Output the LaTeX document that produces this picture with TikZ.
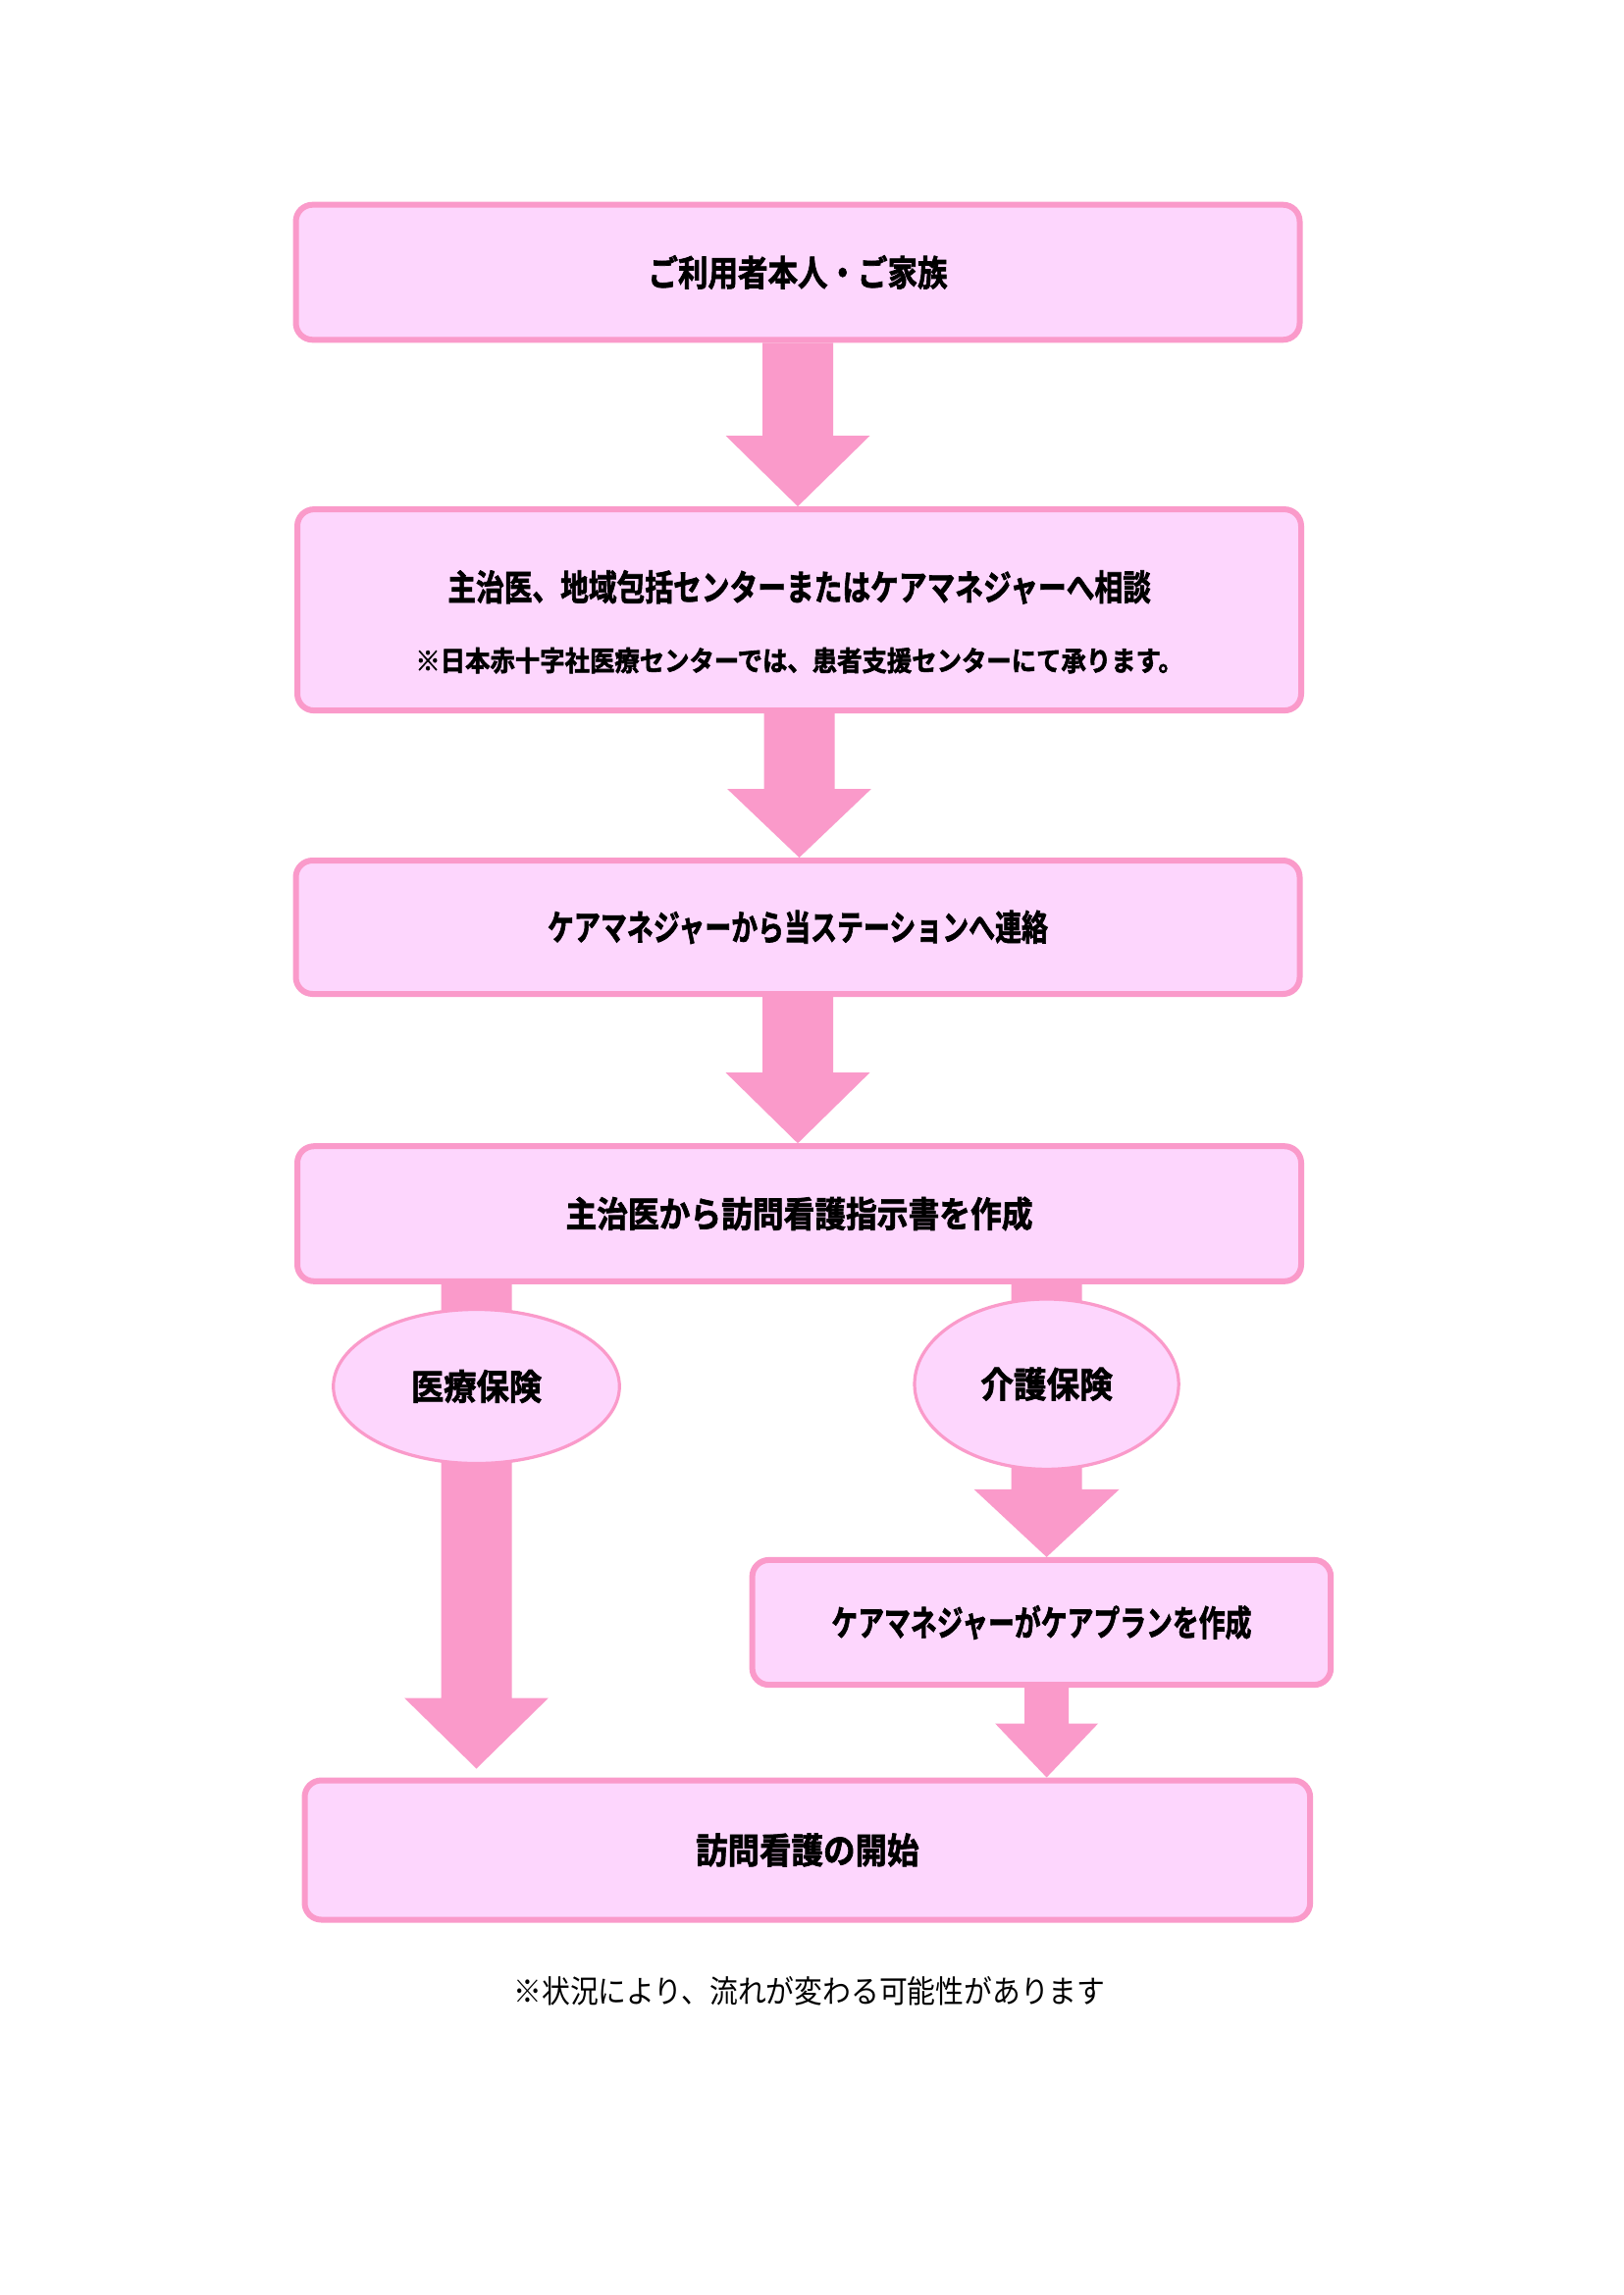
\documentclass[tikz,border=0pt]{standalone}
\usepackage{fontspec}
\usepackage{graphicx}
\usetikzlibrary{calc,shapes.geometric}
\newfontfamily\jph{Noto Sans CJK JP Bold}[FakeBold=2]
\newfontfamily\jpr{Noto Sans CJK JP}
\definecolor{bpink}{HTML}{FA9ACA}
\definecolor{fpink}{HTML}{FDD6FD}
\newcommand\fitw[2]{\resizebox{#1}{\height}{#2}}
\pgfdeclarelayer{bg}
\pgfsetlayers{bg,main}
% #1 start, #2 tip, #3 shaft half width, #4 head half width, #5 head length
\newcommand\barrow[5]{%
  \fill[bpink] let \p1=(#1), \p2=(#2) in
  (\x1-#3,\y1) -- (\x1-#3,\y2+#5) -- (\x1-#4,\y2+#5) -- (\x1,\y2)
  -- (\x1+#4,\y2+#5) -- (\x1+#3,\y2+#5) -- (\x1+#3,\y1) -- cycle;}
\begin{document}
\begin{tikzpicture}[x=0.5pt,y=-0.5pt,
  box/.style={draw=bpink, fill=fpink, line width=3pt, rounded corners=8.5pt,
    inner sep=0pt, font=\jph\fontsize{18pt}{20pt}\selectfont},
  oval/.style={ellipse, draw=bpink, fill=fpink, line width=1.6pt,
    inner sep=0pt, font=\jph\fontsize{18pt}{20pt}\selectfont},
  lbl/.style={inner sep=0pt, font=\jph\fontsize{18pt}{20pt}\selectfont},
  note/.style={inner sep=0pt, font=\jpr\fontsize{16pt}{18pt}\selectfont}]
\begin{pgfonlayer}{bg}
\fill[white] (0,0) rectangle (1654,2339);
\end{pgfonlayer}
\useasboundingbox (0,0) rectangle (1654,2339);

% boxes and ovals
\node[box, minimum width=511.5pt, minimum height=68.8pt] (b1) at (813,277.5)
  {\raisebox{-1.5pt}{\fitw{152.5pt}{ご利用者本人・ご家族}}};
\node[box, minimum width=511.5pt, minimum height=102.5pt] (b2) at (814.5,621.6) {};
\node[lbl] (b2a) at (814.6,598.4) {\fitw{358.3pt}{主治医、地域包括センターまたはケアマネジャーへ相談}};
\node[lbl, font=\jph\fontsize{14pt}{16pt}\selectfont] (b2b) at (814.6,673.2)
  {\fitw{391.2pt}{※日本赤十字社医療センターでは、患者支援センターにて承ります。}};
\node[box, minimum width=511.5pt, minimum height=68pt] (b3) at (813,945)
  {\raisebox{-1.8pt}{\fitw{255pt}{ケアマネジャーから当ステーションへ連絡}}};
\node[box, minimum width=511.5pt, minimum height=68.8pt] (b4) at (814.5,1237)
  {\raisebox{-1.5pt}{\fitw{238pt}{主治医から訪問看護指示書を作成}}};
\node[oval, minimum width=145.8pt, minimum height=78.5pt] (e1) at (485.5,1413)
  {\raisebox{-3.3pt}{\fitw{66.5pt}{医療保険}}};
\node[oval, minimum width=134.6pt, minimum height=86.7pt] (e2) at (1066.6,1410.7)
  {\raisebox{-0.8pt}{\fitw{67.3pt}{介護保険}}};
\node[box, minimum width=294.8pt, minimum height=63.6pt] (b5) at (1061.4,1653.5)
  {\raisebox{-4pt}{\fitw{214pt}{ケアマネジャーがケアプランを作成}}};
\node[box, minimum width=512.3pt, minimum height=71pt] (b6) at (822.8,1885.5)
  {\raisebox{-1.2pt}{\fitw{113.7pt}{訪問看護の開始}}};

\node[note] (fn) at (825,2029) {\fitw{301.5pt}{※状況により、流れが変わる可能性があります}};

% block arrows (behind the shapes)
\begin{pgfonlayer}{bg}
\barrow{b1.south}{b2.north}{18pt}{36.7pt}{36pt}
\barrow{b2.south}{b3.north}{18pt}{36.7pt}{35pt}
\barrow{b3.south}{b4.north}{18pt}{36.7pt}{36pt}
\barrow{b4.south -| e1}{$(b6.north -| e1)+(0,-9)$}{18pt}{36.7pt}{36pt}
\barrow{b4.south -| e2}{b5.north -| e2}{18pt}{37pt}{34.5pt}
\barrow{b5.south -| e2}{b6.north -| e2}{11.25pt}{26.25pt}{27.5pt}
\end{pgfonlayer}
\end{tikzpicture}
\end{document}
